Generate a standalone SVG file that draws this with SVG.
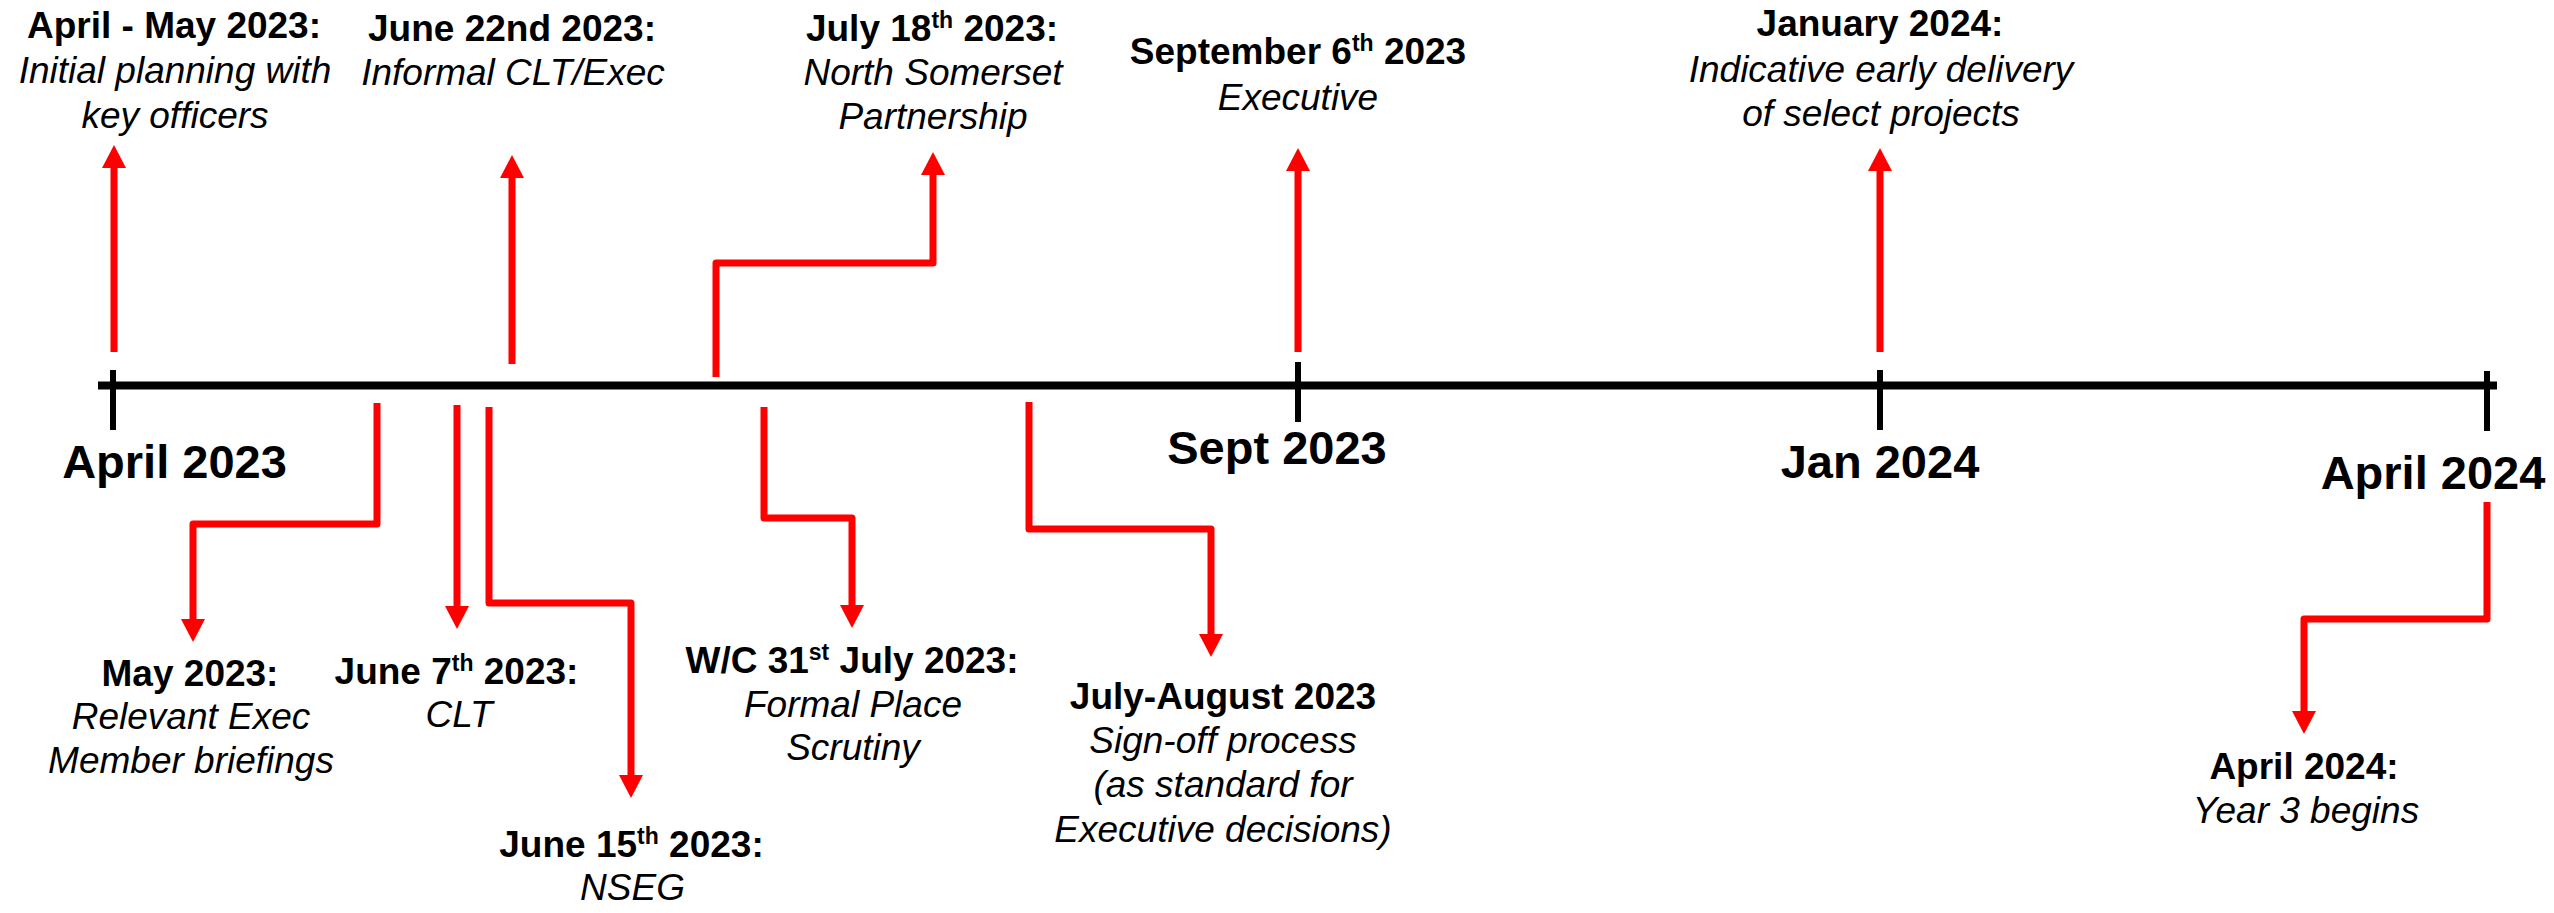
<svg xmlns="http://www.w3.org/2000/svg" width="2554" height="913" viewBox="0 0 2554 913">
  <style>
    .hd { font-family: "Liberation Sans", Arial, sans-serif; font-weight: bold; font-size: 37px; fill: #000; text-anchor: middle; }
    .it { font-family: "Liberation Sans", Arial, sans-serif; font-style: italic; font-size: 37px; fill: #000; text-anchor: middle; }
    .ax { font-family: "Liberation Sans", Arial, sans-serif; font-weight: bold; font-size: 47px; fill: #000; text-anchor: middle; }
    .sup { font-size: 23px; }
    .axis { stroke: #000; stroke-width: 8; fill: none; }
    .tick { stroke: #000; stroke-width: 6; fill: none; }
    .link { stroke: #FF0000; stroke-width: 7; fill: none; stroke-linejoin: round; stroke-linecap: butt; marker-end: url(#head); }
  </style>
  <defs>
    <marker id="head" markerUnits="userSpaceOnUse" viewBox="0 0 23 24" markerWidth="23" markerHeight="24" refX="1" refY="12" orient="auto">
      <path d="M0,0 L23,12 L0,24 Z" fill="#FF0000"/>
    </marker>
  </defs>

  <rect width="2554" height="913" fill="#fff"/>

  <!-- time axis with month ticks -->
  <g id="axis">
    <line class="axis" x1="98" y1="385.5" x2="2497" y2="385.5"/>
    <line class="tick" x1="113" y1="370" x2="113" y2="430"/>
    <line class="tick" x1="1298" y1="362" x2="1298" y2="422"/>
    <line class="tick" x1="1880" y1="370" x2="1880" y2="430"/>
    <line class="tick" x1="2487" y1="371" x2="2487" y2="431"/>
    <text class="ax" x="174.5" y="478">April 2023</text>
    <text class="ax" x="1277" y="464">Sept 2023</text>
    <text class="ax" x="1880" y="478">Jan 2024</text>
    <text class="ax" x="2433" y="489">April 2024</text>
  </g>

  <!-- connectors from the axis to each milestone -->
  <g id="connectors">
    <path class="link" d="M114,352 V167"/>
    <path class="link" d="M512,364 V177"/>
    <path class="link" d="M716,377 V263 H933 V174"/>
    <path class="link" d="M1298,352 V170"/>
    <path class="link" d="M1880,352 V170"/>
    <path class="link" d="M377,403 V524 H193 V620"/>
    <path class="link" d="M457,405 V607"/>
    <path class="link" d="M489,407 V603 H631 V776"/>
    <path class="link" d="M764,407 V518 H852 V606"/>
    <path class="link" d="M1029,402 V529 H1211 V635"/>
    <path class="link" d="M2487,502 V619 H2304 V712"/>
  </g>

  <!-- milestones above the axis -->
  <g id="m-apr-may-2023">
    <text class="hd" x="174" y="38">April - May 2023:</text>
    <text class="it" x="175" y="83">Initial planning with</text>
    <text class="it" x="175" y="128">key officers</text>
  </g>
  <g id="m-jun-22-2023">
    <text class="hd" x="512" y="40.5">June 22nd 2023:</text>
    <text class="it" x="513" y="85">Informal CLT/Exec</text>
  </g>
  <g id="m-jul-18-2023">
    <text class="hd" x="932" y="40.5">July 18<tspan class="sup" dy="-13">th</tspan><tspan dy="13"> 2023:</tspan></text>
    <text class="it" x="933" y="85">North Somerset</text>
    <text class="it" x="933" y="128.5">Partnership</text>
  </g>
  <g id="m-sep-6-2023">
    <text class="hd" x="1298" y="64">September 6<tspan class="sup" dy="-13">th</tspan><tspan dy="13"> 2023</tspan></text>
    <text class="it" x="1298" y="110">Executive</text>
  </g>
  <g id="m-jan-2024">
    <text class="hd" x="1880" y="36">January 2024:</text>
    <text class="it" x="1881" y="81.5">Indicative early delivery</text>
    <text class="it" x="1881" y="126">of select projects</text>
  </g>

  <!-- milestones below the axis -->
  <g id="m-may-2023">
    <text class="hd" x="190" y="686">May 2023:</text>
    <text class="it" x="191" y="729">Relevant Exec</text>
    <text class="it" x="191" y="773">Member briefings</text>
  </g>
  <g id="m-jun-7-2023">
    <text class="hd" x="456.5" y="684">June 7<tspan class="sup" dy="-13">th</tspan><tspan dy="13"> 2023:</tspan></text>
    <text class="it" x="459" y="727">CLT</text>
  </g>
  <g id="m-jun-15-2023">
    <text class="hd" x="631.5" y="857">June 15<tspan class="sup" dy="-13">th</tspan><tspan dy="13"> 2023:</tspan></text>
    <text class="it" x="632.5" y="900">NSEG</text>
  </g>
  <g id="m-wc-31-jul-2023">
    <text class="hd" x="852" y="673">W/C 31<tspan class="sup" dy="-13">st</tspan><tspan dy="13"> July 2023:</tspan></text>
    <text class="it" x="853" y="717">Formal Place</text>
    <text class="it" x="853" y="760">Scrutiny</text>
  </g>
  <g id="m-jul-aug-2023">
    <text class="hd" x="1223" y="709">July-August 2023</text>
    <text class="it" x="1223" y="753">Sign-off process</text>
    <text class="it" x="1223" y="797">(as standard for</text>
    <text class="it" x="1223" y="842">Executive decisions)</text>
  </g>
  <g id="m-apr-2024">
    <text class="hd" x="2304" y="779">April 2024:</text>
    <text class="it" x="2306" y="823">Year 3 begins</text>
  </g>
</svg>
